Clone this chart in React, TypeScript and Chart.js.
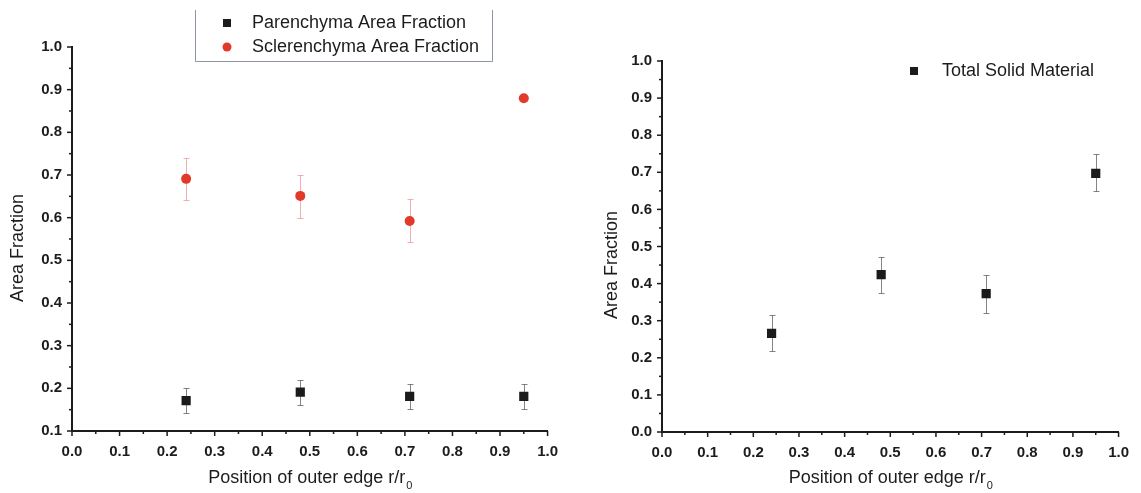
import React, { useEffect, useRef } from 'react';
import { Chart, registerables } from 'chart.js';

Chart.register(...registerables);

const FONT = "'Liberation Sans', Arial, Helvetica, sans-serif";
const INK = '#1c1c1c';

// ---- data ----
const positions = [0.24, 0.48, 0.71, 0.95];

const parenchyma = [0.171, 0.191, 0.181, 0.181];
const parenchymaLow = [0.142, 0.162, 0.152, 0.152];
const parenchymaHigh = [0.2, 0.219, 0.209, 0.209];

const sclerenchyma = [0.691, 0.651, 0.592, 0.88];
const sclerenchymaLow = [0.641, 0.6, 0.543, 0.88];
const sclerenchymaHigh = [0.741, 0.7, 0.643, 0.88];

const totalSolid = [0.266, 0.424, 0.373, 0.697];
const totalSolidLow = [0.217, 0.375, 0.322, 0.65];
const totalSolidHigh = [0.315, 0.473, 0.422, 0.748];

const leftLegendLabels = ['Parenchyma Area Fraction', 'Sclerenchyma Area Fraction'];
const rightLegendLabels = ['Total Solid Material'];
const yTitle = 'Area Fraction';
const xTitleMain = 'Position of outer edge r/r';
const xTitleSub = '0';

const BLACK = '#1b1b1b';
const RED = '#e13a2d';

type ErrSet = { ds: number; low: number[]; high: number[]; color: string };
type LegendItem = { label: string; style: 'rect' | 'circle'; color: string; x: number; y: number; tx: number };

function decorPlugin(cfg: {
  errs: ErrSet[];
  legend: LegendItem[];
  box?: { x: number; y: number; w: number; h: number };
  yTitlePos: { x: number; y: number };
  xTitleY: number;
  yMin: number;
}) {
  return {
    id: 'decor',
    beforeDatasetsDraw(chart: any) {
      const ctx = chart.ctx;
      const xs = chart.scales.x;
      const ys = chart.scales.y;
      ctx.save();
      ctx.lineWidth = 1;
      cfg.errs.forEach((e) => {
        ctx.strokeStyle = e.color;
        const data = chart.data.datasets[e.ds].data as any[];
        data.forEach((p: any, i: number) => {
          if (e.high[i] - e.low[i] <= 0) return;
          const px = Math.round(xs.getPixelForValue(p.x)) + 0.5;
          const y1 = Math.round(ys.getPixelForValue(e.low[i])) + 0.5;
          const y2 = Math.round(ys.getPixelForValue(e.high[i])) + 0.5;
          ctx.beginPath();
          ctx.moveTo(px, y1);
          ctx.lineTo(px, y2);
          ctx.moveTo(px - 3, y1);
          ctx.lineTo(px + 3, y1);
          ctx.moveTo(px - 3, y2);
          ctx.lineTo(px + 3, y2);
          ctx.stroke();
        });
      });
      ctx.restore();
    },
    afterDraw(chart: any) {
      const ctx = chart.ctx;
      const xs = chart.scales.x;
      const ys = chart.scales.y;
      const area = chart.chartArea;
      ctx.save();
      ctx.strokeStyle = INK;
      ctx.lineWidth = 1.5;
      // x ticks (major + minor)
      for (let i = 0; i <= 20; i++) {
        const v = i * 0.05;
        const px = xs.getPixelForValue(v);
        const len = i % 2 === 0 ? 5 : 3;
        ctx.beginPath();
        ctx.moveTo(px, area.bottom);
        ctx.lineTo(px, area.bottom + len);
        ctx.stroke();
      }
      // y ticks
      const steps = Math.round((1 - cfg.yMin) / 0.05);
      for (let i = 0; i <= steps; i++) {
        const v = cfg.yMin + i * 0.05;
        const py = ys.getPixelForValue(v);
        const len = i % 2 === 0 ? 5 : 3;
        ctx.beginPath();
        ctx.moveTo(area.left, py);
        ctx.lineTo(area.left - len, py);
        ctx.stroke();
      }
      // legend box
      if (cfg.box) {
        const b = cfg.box;
        ctx.strokeStyle = '#8d95a6';
        ctx.lineWidth = 1;
        ctx.beginPath();
        ctx.moveTo(b.x + 0.5, b.y);
        ctx.lineTo(b.x + 0.5, b.y + b.h + 0.5);
        ctx.lineTo(b.x + b.w + 0.5, b.y + b.h + 0.5);
        ctx.lineTo(b.x + b.w + 0.5, b.y);
        ctx.stroke();
      }
      // legend items
      ctx.font = `18px ${FONT}`;
      ctx.textBaseline = 'middle';
      ctx.textAlign = 'left';
      cfg.legend.forEach((it) => {
        ctx.fillStyle = it.color;
        if (it.style === 'rect') {
          ctx.fillRect(it.x - 4, it.y - 4, 8, 8);
        } else {
          ctx.beginPath();
          ctx.arc(it.x, it.y, 4.5, 0, Math.PI * 2);
          ctx.fill();
        }
        ctx.fillStyle = INK;
        ctx.fillText(it.label, it.tx, it.y);
      });
      // y title
      ctx.save();
      ctx.translate(cfg.yTitlePos.x, cfg.yTitlePos.y);
      ctx.rotate(-Math.PI / 2);
      ctx.textAlign = 'center';
      ctx.textBaseline = 'middle';
      ctx.fillStyle = INK;
      ctx.font = `18px ${FONT}`;
      ctx.fillText(yTitle, 0, 0);
      ctx.restore();
      // x title with subscript
      ctx.font = `18px ${FONT}`;
      const wMain = ctx.measureText(xTitleMain).width;
      ctx.font = `11px ${FONT}`;
      const wSub = ctx.measureText(xTitleSub).width;
      const cx = (area.left + area.right) / 2;
      const startX = cx - (wMain + wSub) / 2;
      ctx.fillStyle = INK;
      ctx.textAlign = 'left';
      ctx.textBaseline = 'middle';
      ctx.font = `18px ${FONT}`;
      ctx.fillText(xTitleMain, startX, cfg.xTitleY);
      ctx.font = `11px ${FONT}`;
      ctx.fillText(xTitleSub, startX + wMain + 1, cfg.xTitleY + 8);
      ctx.restore();
    },
  };
}

function baseScales(yMin: number, yAxisWidth: number, xAxisHeight: number) {
  return {
    x: {
      type: 'linear' as const,
      min: 0,
      max: 1,
      grid: { display: false, drawTicks: false },
      border: { display: true, color: INK, width: 2 },
      ticks: {
        stepSize: 0.1,
        padding: 12,
        color: INK,
        font: { family: FONT, size: 15, weight: 'bold' as const },
        callback: (v: any) => Number(v).toFixed(1),
        maxRotation: 0,
        autoSkip: false,
      },
      afterFit: (s: any) => {
        s.height = xAxisHeight;
      },
    },
    y: {
      type: 'linear' as const,
      min: yMin,
      max: 1,
      grid: { display: false, drawTicks: false },
      border: { display: true, color: INK, width: 2 },
      ticks: {
        stepSize: 0.1,
        padding: 10,
        color: INK,
        font: { family: FONT, size: 15, weight: 'bold' as const },
        callback: (v: any) => Number(v).toFixed(1),
        autoSkip: false,
      },
      afterFit: (s: any) => {
        s.width = yAxisWidth;
      },
    },
  };
}

function LeftChart() {
  const ref = useRef<HTMLCanvasElement>(null);
  useEffect(() => {
    if (!ref.current) return;
    const chart = new Chart(ref.current, {
      type: 'scatter',
      data: {
        datasets: [
          {
            label: leftLegendLabels[0],
            data: positions.map((x, i) => ({ x, y: parenchyma[i] })),
            pointStyle: 'rect',
            pointRadius: 6.5,
            backgroundColor: BLACK,
            borderWidth: 0,
          },
          {
            label: leftLegendLabels[1],
            data: positions.map((x, i) => ({ x, y: sclerenchyma[i] })),
            pointStyle: 'circle',
            pointRadius: 5,
            backgroundColor: RED,
            borderWidth: 0,
          },
        ],
      },
      options: {
        responsive: false,
        animation: false,
        events: [],
        layout: { padding: { top: 47, right: 20, bottom: 0, left: 0 } },
        plugins: { legend: { display: false }, tooltip: { enabled: false } },
        scales: baseScales(0.1, 72, 62) as any,
      },
      plugins: [
        decorPlugin({
          errs: [
            { ds: 0, low: parenchymaLow, high: parenchymaHigh, color: 'rgba(80,80,80,0.7)' },
            { ds: 1, low: sclerenchymaLow, high: sclerenchymaHigh, color: 'rgba(240,140,140,0.7)' },
          ],
          legend: [
            { label: leftLegendLabels[0], style: 'rect', color: BLACK, x: 227, y: 23, tx: 252 },
            { label: leftLegendLabels[1], style: 'circle', color: RED, x: 227, y: 47, tx: 252 },
          ],
          box: { x: 195, y: 10, w: 297, h: 51 },
          yTitlePos: { x: 18, y: 248 },
          xTitleY: 478,
          yMin: 0.1,
        }),
      ],
    });
    return () => chart.destroy();
  }, []);
  return (
    <canvas
      ref={ref}
      width={570}
      height={493}
      style={{ position: 'absolute', left: 0, top: 0, width: 570, height: 493 }}
    />
  );
}

function RightChart() {
  const ref = useRef<HTMLCanvasElement>(null);
  useEffect(() => {
    if (!ref.current) return;
    const chart = new Chart(ref.current, {
      type: 'scatter',
      data: {
        datasets: [
          {
            label: rightLegendLabels[0],
            data: positions.map((x, i) => ({ x, y: totalSolid[i] })),
            pointStyle: 'rect',
            pointRadius: 6.5,
            backgroundColor: BLACK,
            borderWidth: 0,
          },
        ],
      },
      options: {
        responsive: false,
        animation: false,
        events: [],
        layout: { padding: { top: 61, right: 12, bottom: 0, left: 0 } },
        plugins: { legend: { display: false }, tooltip: { enabled: false } },
        scales: baseScales(0, 92, 61) as any,
      },
      plugins: [
        decorPlugin({
          errs: [{ ds: 0, low: totalSolidLow, high: totalSolidHigh, color: 'rgba(80,80,80,0.7)' }],
          legend: [{ label: rightLegendLabels[0], style: 'rect', color: BLACK, x: 344, y: 71, tx: 372 }],
          yTitlePos: { x: 42, y: 265 },
          xTitleY: 478,
          yMin: 0,
        }),
      ],
    });
    return () => chart.destroy();
  }, []);
  return (
    <canvas
      ref={ref}
      width={571}
      height={493}
      style={{ position: 'absolute', left: 570, top: 0, width: 571, height: 493 }}
    />
  );
}

export default function App() {
  return (
    <div style={{ position: 'absolute', left: 0, top: 0, width: 1141, height: 493, background: '#fff' }}>
      <LeftChart />
      <RightChart />
    </div>
  );
}
